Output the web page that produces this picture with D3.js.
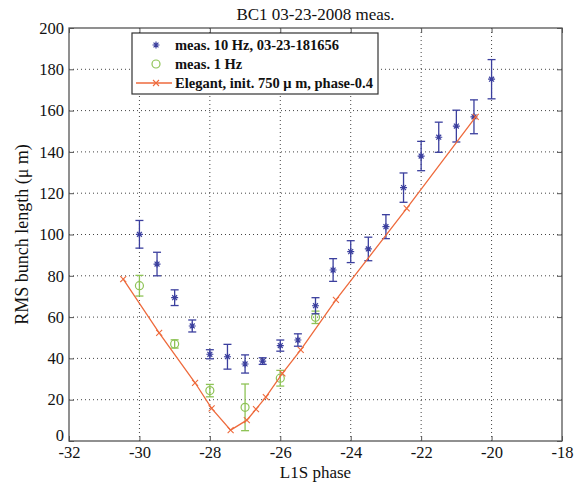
<!DOCTYPE html>
<html>
<head>
<meta charset="utf-8">
<script src="https://cdn.jsdelivr.net/npm/d3@7"></script>
<style>
  body { margin: 0; background: #fff; }
  svg { display: block; }
  svg text { font-family: "Liberation Serif", "Times New Roman", serif; }
</style>
</head>
<body>
<svg id="chart" width="576" height="485"></svg>
<script>
// 10 Hz measurements
const phase10 = [-30, -29.5, -29, -28.5, -28, -27.5, -27, -26.5, -26, -25.5, -25, -24.5, -24, -23.5, -23, -22.5, -22, -21.5, -21, -20.5, -20];
const rms10 = [100.1, 85.7, 69.4, 55.7, 42, 40.8, 37.3, 38.7, 46.2, 48.9, 65.5, 82.8, 91.7, 93, 103.8, 122.7, 138, 147.1, 152.5, 157, 175.2];
const err10 = [6.7, 5.7, 3.8, 2.9, 2.2, 6, 4.4, 1.6, 2.7, 3, 3.9, 5.5, 5.3, 5.7, 5.8, 7.1, 7.1, 7.3, 7.7, 8.2, 9.5];

// 1 Hz measurements
const phase1 = [-30, -29, -28, -27, -26, -25];
const rms1 = [75.2, 47, 24.4, 16.3, 30.4, 59.9];
const err1 = [5, 2, 3, 11.3, 3.8, 3];

// Elegant simulation
const phaseEl = [-30.46, -29.44, -28.42, -27.95, -27.41, -26.95, -26.69, -26.41, -25.94, -25.42, -24.42, -22.41, -20.45];
const rmsEl = [78.4, 52.4, 28.2, 15.8, 5.3, 10.1, 15.4, 21.2, 32.8, 44.1, 68.3, 112.7, 157];

const xTicks = [-32, -30, -28, -26, -24, -22, -20, -18];
const yTicks = [0, 20, 40, 60, 80, 100, 120, 140, 160, 180, 200];

const legendLabels = ["meas. 10 Hz, 03-23-181656", "meas. 1 Hz", "Elegant, init. 750 \u03bc m, phase-0.4"];

const blue = "#3b3f9e", green = "#8ec356", orange = "#ee6a3c", axisCol = "#555";
const serif = "'Liberation Serif', 'Times New Roman', serif";

const margin = {top: 28, right: 14, bottom: 44, left: 69};
const width = 576, height = 485;

const svg = d3.select("#chart");

const x = d3.scaleLinear().domain([-32, -18]).range([margin.left, width - margin.right]);
const y = d3.scaleLinear().domain([0, 200]).range([height - margin.bottom, margin.top]);

// grid
const grid = svg.append("g").attr("stroke", "#444").attr("stroke-width", 1).attr("stroke-dasharray", "1,3");
grid.selectAll(".gx").data(xTicks.slice(1, -1)).join("line")
    .attr("x1", d => x(d)).attr("x2", d => x(d))
    .attr("y1", y(0)).attr("y2", y(200));
grid.selectAll(".gy").data(yTicks.slice(1, -1)).join("line")
    .attr("x1", x(-32)).attr("x2", x(-18))
    .attr("y1", d => y(d)).attr("y2", d => y(d));

// axes
function styleAxis(g) {
    g.attr("font-family", serif);
    g.select(".domain").remove();
    g.selectAll(".tick line").attr("stroke", axisCol);
    g.selectAll(".tick text").attr("fill", "#111").attr("font-size", 16.5);
}
const fmt = d => String(d);
svg.append("g").attr("transform", `translate(0,${y(0)})`)
    .call(d3.axisBottom(x).tickValues(xTicks).tickSize(-5).tickPadding(5).tickFormat(fmt))
    .call(styleAxis);
svg.append("g").attr("transform", `translate(0,${y(200)})`)
    .call(d3.axisTop(x).tickValues(xTicks).tickSize(-5).tickFormat(""))
    .call(styleAxis);
const yAxisG = svg.append("g").attr("transform", `translate(${x(-32)},0)`)
    .call(d3.axisLeft(y).tickValues(yTicks).tickSize(-5).tickPadding(5).tickFormat(fmt))
    .call(styleAxis);
yAxisG.selectAll(".tick text").filter(d => d === 0).attr("dy", "-0.05em");
svg.append("g").attr("transform", `translate(${x(-18)},0)`)
    .call(d3.axisRight(y).tickValues(yTicks).tickSize(-5).tickFormat(""))
    .call(styleAxis);

svg.append("rect")
    .attr("x", x(-32)).attr("y", y(200))
    .attr("width", x(-18) - x(-32)).attr("height", y(0) - y(200))
    .attr("fill", "none").attr("stroke", axisCol).attr("stroke-width", 1.3);

// error bars
function errorBars(px, py, pe, color) {
    const g = svg.append("g").attr("stroke", color).attr("stroke-width", 1.3).attr("fill", "none");
    const data = px.map((d, i) => ({x: d, y: py[i], e: pe[i]}));
    g.selectAll(".v").data(data).join("line")
        .attr("x1", d => x(d.x)).attr("x2", d => x(d.x))
        .attr("y1", d => y(d.y - d.e)).attr("y2", d => y(d.y + d.e));
    g.selectAll(".t").data(data).join("line")
        .attr("x1", d => x(d.x) - 4).attr("x2", d => x(d.x) + 4)
        .attr("y1", d => y(d.y + d.e)).attr("y2", d => y(d.y + d.e));
    g.selectAll(".b").data(data).join("line")
        .attr("x1", d => x(d.x) - 4).attr("x2", d => x(d.x) + 4)
        .attr("y1", d => y(d.y - d.e)).attr("y2", d => y(d.y - d.e));
    return data;
}

function star(g, cx, cy, r) {
    g.append("path")
        .attr("d", `M${cx - r},${cy}L${cx + r},${cy}M${cx},${cy - r}L${cx},${cy + r}` +
            `M${cx - r * 0.7},${cy - r * 0.7}L${cx + r * 0.7},${cy + r * 0.7}M${cx - r * 0.7},${cy + r * 0.7}L${cx + r * 0.7},${cy - r * 0.7}`)
        .attr("stroke", blue).attr("stroke-width", 1.2);
}
function cross(g, cx, cy, r) {
    g.append("path")
        .attr("d", `M${cx - r},${cy - r}L${cx + r},${cy + r}M${cx - r},${cy + r}L${cx + r},${cy - r}`)
        .attr("stroke", orange).attr("stroke-width", 1.1);
}

// 1 Hz
const d1 = errorBars(phase1, rms1, err1, green);
svg.append("g").selectAll("circle").data(d1).join("circle")
    .attr("cx", d => x(d.x)).attr("cy", d => y(d.y)).attr("r", 4)
    .attr("fill", "none").attr("stroke", green).attr("stroke-width", 1.2);

// 10 Hz
const d10 = errorBars(phase10, rms10, err10, blue);
const starG = svg.append("g");
d10.forEach(d => star(starG, x(d.x), y(d.y), 3.5));

// Elegant
const elData = phaseEl.map((d, i) => [d, rmsEl[i]]);
svg.append("path")
    .attr("d", d3.line().x(d => x(d[0])).y(d => y(d[1]))(elData))
    .attr("fill", "none").attr("stroke", orange).attr("stroke-width", 1.3);
const crossG = svg.append("g");
elData.forEach(d => cross(crossG, x(d[0]), y(d[1]), 3));

// legend
const lg = svg.append("g");
lg.append("rect").attr("x", 132).attr("y", 33).attr("width", 246).attr("height", 61)
    .attr("fill", "#fff").attr("stroke", "#333").attr("stroke-width", 1.2);
const rowsY = [45, 64, 83];
lg.selectAll("text").data(legendLabels).join("text")
    .attr("x", 175).attr("y", (d, i) => rowsY[i] + 5)
    .attr("font-size", 14.5).attr("font-weight", "bold").attr("fill", "#111")
    .text(d => d);
star(lg, 156, rowsY[0], 3.5);
lg.append("circle").attr("cx", 156).attr("cy", rowsY[1]).attr("r", 4)
    .attr("fill", "none").attr("stroke", green).attr("stroke-width", 1.2);
lg.append("line").attr("x1", 136).attr("x2", 172).attr("y1", rowsY[2]).attr("y2", rowsY[2])
    .attr("stroke", orange).attr("stroke-width", 1.3);
cross(lg, 156, rowsY[2], 3);

// titles
svg.append("text").attr("x", (x(-32) + x(-18)) / 2).attr("y", 20)
    .attr("text-anchor", "middle").attr("font-size", 17).attr("fill", "#111")
    .text("BC1 03-23-2008 meas.");
svg.append("text").attr("x", (x(-32) + x(-18)) / 2).attr("y", 478)
    .attr("text-anchor", "middle").attr("font-size", 17).attr("fill", "#111")
    .text("L1S phase");
svg.append("text")
    .attr("transform", `translate(28,${(y(0) + y(200)) / 2}) rotate(-90)`)
    .attr("text-anchor", "middle").attr("font-size", 18).attr("fill", "#111")
    .text("RMS bunch length (\u03bc m)");
</script>
</body>
</html>
